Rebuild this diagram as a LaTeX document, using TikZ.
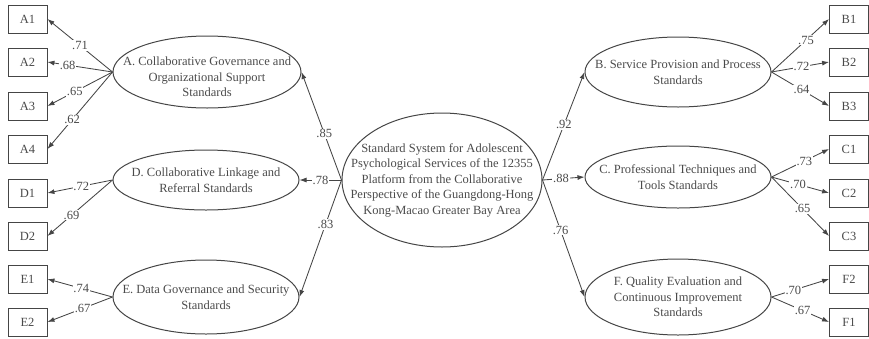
\documentclass[tikz,border=0pt]{standalone}
\usepackage{fontspec}
\setmainfont{Liberation Serif}
\usetikzlibrary{arrows.meta,shapes.geometric}
\definecolor{Ink}{HTML}{454545}
\definecolor{Txt}{HTML}{4A4A4A}
\newcommand{\LatentNode}[6]{%
\node[latent, minimum width=#2, minimum height=#3] (#1) at #4 {};
\node[ltext] (#1t) at ([yshift=#5]#1.center) {#6};
}

\begin{document}
\begin{tikzpicture}[
    x=1pt,
    y=-1pt,
    every node/.style={font=\fontsize{12.5}{15.5}\selectfont, text=Txt},
    latent/.style={ellipse, draw=Ink, line width=1pt, inner sep=0pt},
    ltext/.style={align=center, inner sep=0pt},
    obs/.style={rectangle, draw=Ink, line width=0.9pt, minimum width=39pt, minimum height=28pt, inner sep=0pt},
    loadarrow/.style={draw=Ink, line width=0.85pt, -{Latex[length=7pt,width=5pt]}},
    coef/.style={fill=white, inner sep=0.8pt}
]
\useasboundingbox (0,0) rectangle (869,338);

% Observed indicators
\foreach \n/\y in {A1/19,A2/62,A3/106,A4/149,D1/193,D2/236,E1/279,E2/322}
    \node[obs] (\n) at (27.5,\y) {\n};
\foreach \n/\y in {B1/19,B2/62,B3/106,C1/149,C2/193,C3/236,F2/279,F1/322}
    \node[obs] (\n) at (849,\y) {\n};

% Latent factors
\LatentNode{S}{200pt}{134pt}{(442,180)}{0pt}{Standard System for Adolescent\\Psychological Services of the 12355\\Platform from the Collaborative\\Perspective of the Guangdong-Hong\\Kong-Macao Greater Bay Area}
\LatentNode{A}{188pt}{72pt}{(207,72)}{-5pt}{A. Collaborative Governance and\\Organizational Support\\Standards}
\LatentNode{D}{186pt}{60pt}{(206,180)}{0pt}{D. Collaborative Linkage and\\Referral Standards}
\LatentNode{E}{186pt}{74pt}{(206,297)}{0pt}{E. Data Governance and Security\\Standards}
\LatentNode{B}{186pt}{70pt}{(678,72)}{0pt}{B. Service Provision and Process\\Standards}
\LatentNode{C}{186pt}{62pt}{(678,177)}{0pt}{C. Professional Techniques and\\Tools Standards}
\LatentNode{F}{186pt}{76pt}{(678,297)}{0pt}{F. Quality Evaluation and\\Continuous Improvement\\Standards}

% Second-order loadings
\draw[loadarrow] (S.west) -- node[coef, pos=0.43] {.85} (A.east);
\draw[loadarrow] (S.west) -- node[coef, pos=0.5] {.78} (D.east);
\draw[loadarrow] (S.west) -- node[coef, pos=0.38] {.83} (E.east);
\draw[loadarrow] (S.east) -- node[coef, pos=0.51] {.92} (B.west);
\draw[loadarrow] (S.east) -- node[coef, pos=0.44] {.88} (C.west);
\draw[loadarrow] (S.east) -- node[coef, pos=0.43] {.76} (F.west);

% First-order loadings, left side
\foreach \n/\v/\p in {A1/.71/0.5, A2/.68/0.69, A3/.65/0.58, A4/.62/0.62}
    \draw[loadarrow] (A.west) -- node[coef, pos=\p] {\v} (\n.east);
\foreach \n/\v/\p in {D1/.72/0.48, D2/.69/0.63}
    \draw[loadarrow] (D.west) -- node[coef, pos=\p] {\v} (\n.east);
\foreach \n/\v/\p in {E1/.74/0.48, E2/.67/0.46}
    \draw[loadarrow] (E.west) -- node[coef, pos=\p] {\v} (\n.east);

% First-order loadings, right side
\foreach \n/\v/\p in {B1/.75/0.6, B2/.72/0.52, B3/.64/0.52}
    \draw[loadarrow] (B.east) -- node[coef, pos=\p] {\v} (\n.west);
\foreach \n/\v/\p in {C1/.73/0.57, C2/.70/0.46, C3/.65/0.54}
    \draw[loadarrow] (C.east) -- node[coef, pos=\p] {\v} (\n.west);
\foreach \n/\v/\p in {F2/.70/0.38, F1/.67/0.54}
    \draw[loadarrow] (F.east) -- node[coef, pos=\p] {\v} (\n.west);

\end{tikzpicture}
\end{document}
